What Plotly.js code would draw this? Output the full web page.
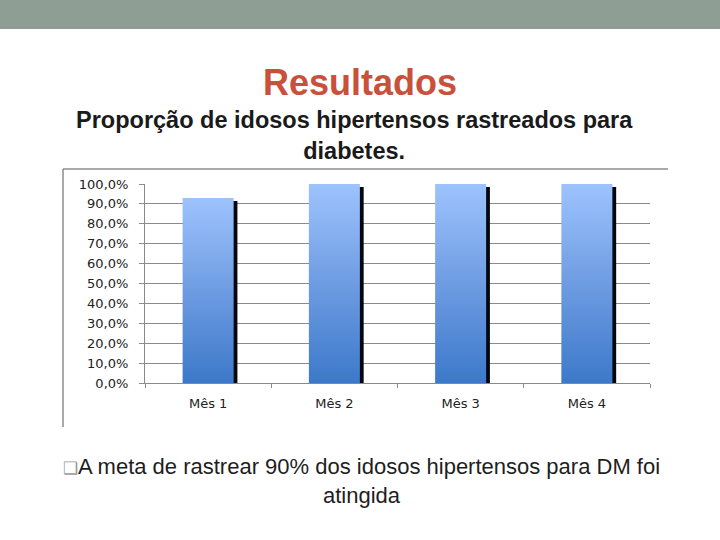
<!DOCTYPE html>
<html>
<head>
<meta charset="utf-8">
<script src="https://cdn.plot.ly/plotly-3.0.1.min.js"></script>
<style>
  html, body { margin: 0; padding: 0; background: #ffffff; }
  #chart { width: 720px; height: 540px; }
</style>
</head>
<body>
<div id="chart"></div>
<script>
// ---- Data ----
const categories = ['Mês 1', 'Mês 2', 'Mês 3', 'Mês 4'];
const proportions = [0.93, 1.0, 1.0, 1.0];
const slideTitle = 'Resultados';
const chartTitleLines = ['Proporção de idosos hipertensos rastreados para', 'diabetes.'];
const noteLine1 = 'A meta de rastrear 90% dos idosos hipertensos para DM foi';
const noteLine2 = 'atingida';

// ---- Geometry helpers (plot area 145..650 x, 184..383 y) ----
const PL = 145, PR = 650, PT = 184, PB = 383;
const px = v => (v - PL) / (PR - PL);
const py = v => (PB - v) / (PB - PT);

const barWidth = 0.404;

const shadowTrace = {
  type: 'bar',
  x: categories,
  y: proportions,
  width: barWidth,
  offset: -barWidth / 2 + 0.03,
  marker: { color: '#05070f', line: { width: 0 } },
  hoverinfo: 'skip',
  showlegend: false
};
const mainTrace = {
  type: 'bar',
  x: categories,
  y: proportions,
  width: barWidth,
  offset: -barWidth / 2,
  marker: { color: '#6d9be0', line: { width: 0 } },
  showlegend: false
};

const tickFont = { family: 'DejaVu Sans, sans-serif', size: 13, color: '#222222' };

const layout = {
  width: 720,
  height: 540,
  paper_bgcolor: '#ffffff',
  plot_bgcolor: '#ffffff',
  margin: { l: PL, r: 720 - PR, t: PT, b: 540 - PB, pad: 0 },
  separators: ',.',
  barmode: 'overlay',
  showlegend: false,
  title: {
    text: slideTitle,
    font: { family: 'Liberation Sans, Arial, sans-serif', size: 36, color: '#c9503a', weight: 'bold' },
    x: 360 / 720,
    xanchor: 'center',
    xref: 'container',
    y: 1 - 82 / 540,
    yanchor: 'middle',
    yref: 'container'
  },
  xaxis: {
    type: 'category',
    showline: true,
    linecolor: '#8a8a8a',
    linewidth: 1,
    showgrid: false,
    ticks: 'outside',
    tickson: 'boundaries',
    ticklen: 4,
    tickcolor: '#8a8a8a',
    ticklabelstandoff: 8,
    tickfont: tickFont,
    fixedrange: true
  },
  yaxis: {
    range: [0, 1],
    dtick: 0.1,
    tick0: 0,
    tickformat: '.1%',
    showline: true,
    linecolor: '#8a8a8a',
    linewidth: 1,
    showgrid: true,
    gridcolor: '#8a8a8a',
    gridwidth: 1,
    zeroline: false,
    ticks: 'outside',
    ticklen: 5,
    tickcolor: '#8a8a8a',
    ticklabelstandoff: 8,
    tickfont: tickFont,
    fixedrange: true
  },
  shapes: [
    // header band
    { type: 'rect', xref: 'paper', yref: 'paper', layer: 'below',
      x0: px(-5), x1: px(725), y0: py(29), y1: py(-5),
      fillcolor: '#8f9e94', line: { width: 0 } },
    // chart frame: top and left edges
    { type: 'line', xref: 'paper', yref: 'paper',
      x0: px(63), x1: px(668), y0: py(169), y1: py(169),
      line: { color: '#8c8c8c', width: 1.5 } },
    { type: 'line', xref: 'paper', yref: 'paper',
      x0: px(63), x1: px(63), y0: py(169), y1: py(427),
      line: { color: '#8c8c8c', width: 1.5 } }
  ],
  annotations: [
    { xref: 'paper', yref: 'paper', x: px(354), y: py(135),
      xanchor: 'center', yanchor: 'middle', showarrow: false, align: 'center',
      text: chartTitleLines.join('<br>'),
      font: { family: 'Liberation Sans, Arial, sans-serif', size: 23.5, color: '#1a1a1a', weight: 'bold' } },
    { xref: 'paper', yref: 'paper', x: px(361), y: py(481),
      xanchor: 'center', yanchor: 'middle', showarrow: false, align: 'center',
      text: '<span style="color:#9a9a9a;font-size:17px">❑</span>' + noteLine1 + '<br>' + noteLine2,
      font: { family: 'Liberation Sans, Arial, sans-serif', size: 22, color: '#1e1e1e' } }
  ]
};

Plotly.newPlot('chart', [shadowTrace, mainTrace], layout, { displayModeBar: false, staticPlot: true }).then(gd => {
  const svg = gd.querySelector('svg.main-svg');
  const ns = 'http://www.w3.org/2000/svg';
  let defs = svg.querySelector('defs');
  if (!defs) { defs = document.createElementNS(ns, 'defs'); svg.insertBefore(defs, svg.firstChild); }
  const grad = document.createElementNS(ns, 'linearGradient');
  grad.setAttribute('id', 'barGradientBlue');
  grad.setAttribute('x1', '0'); grad.setAttribute('y1', '0');
  grad.setAttribute('x2', '0'); grad.setAttribute('y2', '1');
  [['0', '#9dc3fd'], ['0.5', '#6e9ce2'], ['1', '#3c79ca']].forEach(([o, c]) => {
    const s = document.createElementNS(ns, 'stop');
    s.setAttribute('offset', o); s.setAttribute('stop-color', c);
    grad.appendChild(s);
  });
  defs.appendChild(grad);
  const traces = gd.querySelectorAll('.barlayer .trace');
  if (traces.length >= 2) {
    traces[0].querySelectorAll('path').forEach(p => p.setAttribute('transform', 'translate(0,3)'));
    traces[1].querySelectorAll('path').forEach(p => { p.style.fill = 'url(#barGradientBlue)'; });
  }
});
</script>
</body>
</html>
